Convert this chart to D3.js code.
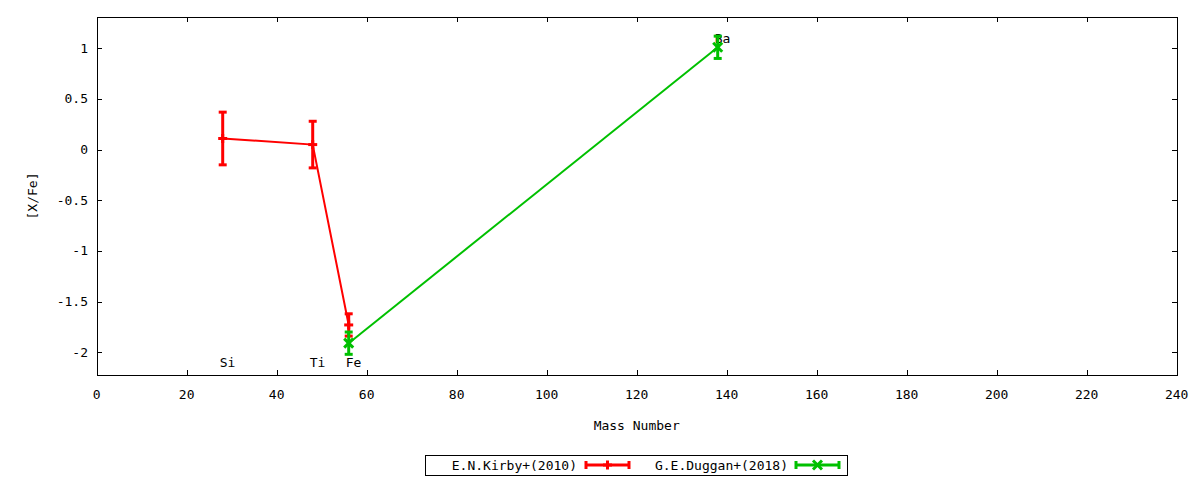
<!DOCTYPE html>
<html><head><meta charset="utf-8">
<script src="https://cdn.jsdelivr.net/npm/d3@7"></script>
<style>body{margin:0;background:#fff}svg{display:block}text{font-family:"DejaVu Sans Mono",monospace;font-size:13px;fill:#000}</style>
</head><body>
<script>
// data
const kirbyMass = [28, 48, 56];
const kirbyVal = [0.11, 0.05, -1.73];
const kirbyErr = [0.26, 0.23, 0.11];
const dugganMass = [56, 138];
const dugganVal = [-1.91, 1.01];
const dugganErr = [0.11, 0.11];
const labelText = ["Si", "Ti", "Fe", "Ba"];
const labelMass = [28, 48, 56, 138];
const labelVal = [-2.1, -2.1, -2.1, 1.1];
const xTicks = [0,20,40,60,80,100,120,140,160,180,200,220,240];
const yTicks = [-2,-1.5,-1,-0.5,0,0.5,1];
const seriesNames = ["E.N.Kirby+(2010)", "G.E.Duggan+(2018)"];
const colors = ["#ff0000", "#00c000"];

const W=1200,H=480;
const L=96.7,R=1176.7,T=17,B=375;
const svg=d3.select("body").append("svg").attr("width",W).attr("height",H);
const x=d3.scaleLinear().domain([0,240]).range([L,R]);
const y=d3.scaleLinear().domain([-2.224,1.309]).range([B,T]);

// ticks (inward, mirrored)
const tk=5;
const g=svg.append("g").attr("stroke","#000").attr("stroke-width",1).attr("shape-rendering","crispEdges");
xTicks.forEach(v=>{
  const px=Math.round(x(v))+0.5;
  g.append("line").attr("x1",px).attr("x2",px).attr("y1",B).attr("y2",B-tk);
  g.append("line").attr("x1",px).attr("x2",px).attr("y1",T).attr("y2",T+tk);
});
yTicks.forEach(v=>{
  const py=Math.round(y(v))+0.5;
  g.append("line").attr("x1",L).attr("x2",L+tk).attr("y1",py).attr("y2",py);
  g.append("line").attr("x1",R).attr("x2",R-tk).attr("y1",py).attr("y2",py);
});
g.append("rect").attr("x",Math.round(L)+0.5).attr("y",T+0.5).attr("width",Math.round(R)-Math.round(L)).attr("height",B-T).attr("fill","none");

// tick labels
const fmt=v=>String(v);
xTicks.forEach(v=>svg.append("text").attr("x",x(v)).attr("y",399).attr("text-anchor","middle").text(fmt(v)));
yTicks.forEach(v=>svg.append("text").attr("x",88).attr("y",y(v)+4.5).attr("text-anchor","end").text(fmt(v)));

// axis titles
svg.append("text").attr("x",(L+R)/2).attr("y",429.5).attr("text-anchor","middle").text("Mass Number");
svg.append("text").attr("transform","translate(36.5,196) rotate(-90)").attr("text-anchor","middle").text("[X/Fe]");

// element labels
labelText.forEach((t,i)=>svg.append("text").attr("x",x(labelMass[i])-3).attr("y",y(labelVal[i])+4.5).attr("text-anchor","start").text(t));

function series(mass,val,err,color,pt){
  const gg=svg.append("g");
  const line=d3.line().x((d,i)=>x(mass[i])).y((d,i)=>y(val[i]));
  gg.append("path").datum(val).attr("d",line).attr("fill","none").attr("stroke",color).attr("stroke-width",2);
  val.forEach((v,i)=>{
    const cx=x(mass[i]);
    gg.append("line").attr("x1",cx).attr("x2",cx).attr("y1",y(v-err[i])).attr("y2",y(v+err[i])).attr("stroke",color).attr("stroke-width",3);
    [v-err[i],v+err[i]].forEach(e=>gg.append("line").attr("x1",cx-4).attr("x2",cx+4).attr("y1",y(e)).attr("y2",y(e)).attr("stroke",color).attr("stroke-width",3));
    drawPoint(gg,cx,y(v),color,pt);
  });
}
function drawPoint(gg,cx,cy,color,pt){
  const s=4.5;
  if(pt==="plus"){
    gg.append("line").attr("x1",cx-s).attr("x2",cx+s).attr("y1",cy).attr("y2",cy).attr("stroke",color).attr("stroke-width",3);
    gg.append("line").attr("x1",cx).attr("x2",cx).attr("y1",cy-s).attr("y2",cy+s).attr("stroke",color).attr("stroke-width",3);
  } else {
    gg.append("line").attr("x1",cx-s).attr("x2",cx+s).attr("y1",cy-s).attr("y2",cy+s).attr("stroke",color).attr("stroke-width",3);
    gg.append("line").attr("x1",cx-s).attr("x2",cx+s).attr("y1",cy+s).attr("y2",cy-s).attr("stroke",color).attr("stroke-width",3);
  }
}
series(kirbyMass,kirbyVal,kirbyErr,colors[0],"plus");
series(dugganMass,dugganVal,dugganErr,colors[1],"cross");

// legend
svg.append("rect").attr("x",425.5).attr("y",455.5).attr("width",422).attr("height",20).attr("fill","none").attr("stroke","#000").attr("stroke-width",1).attr("shape-rendering","crispEdges");
const legY=465;
const legs=[{tx:577,x1:586,x2:629},{tx:788,x1:796,x2:839}];
legs.forEach((l,i)=>{
  svg.append("text").attr("x",l.tx).attr("y",legY+4.5).attr("text-anchor","end").text(seriesNames[i]);
  svg.append("line").attr("x1",l.x1).attr("x2",l.x2).attr("y1",legY).attr("y2",legY).attr("stroke",colors[i]).attr("stroke-width",3);
  [l.x1,l.x2].forEach(px=>svg.append("line").attr("x1",px).attr("x2",px).attr("y1",legY-4).attr("y2",legY+4).attr("stroke",colors[i]).attr("stroke-width",3));
  drawPoint(svg,(l.x1+l.x2)/2,legY,colors[i],i===0?"plus":"cross");
});
</script>
</body></html>
